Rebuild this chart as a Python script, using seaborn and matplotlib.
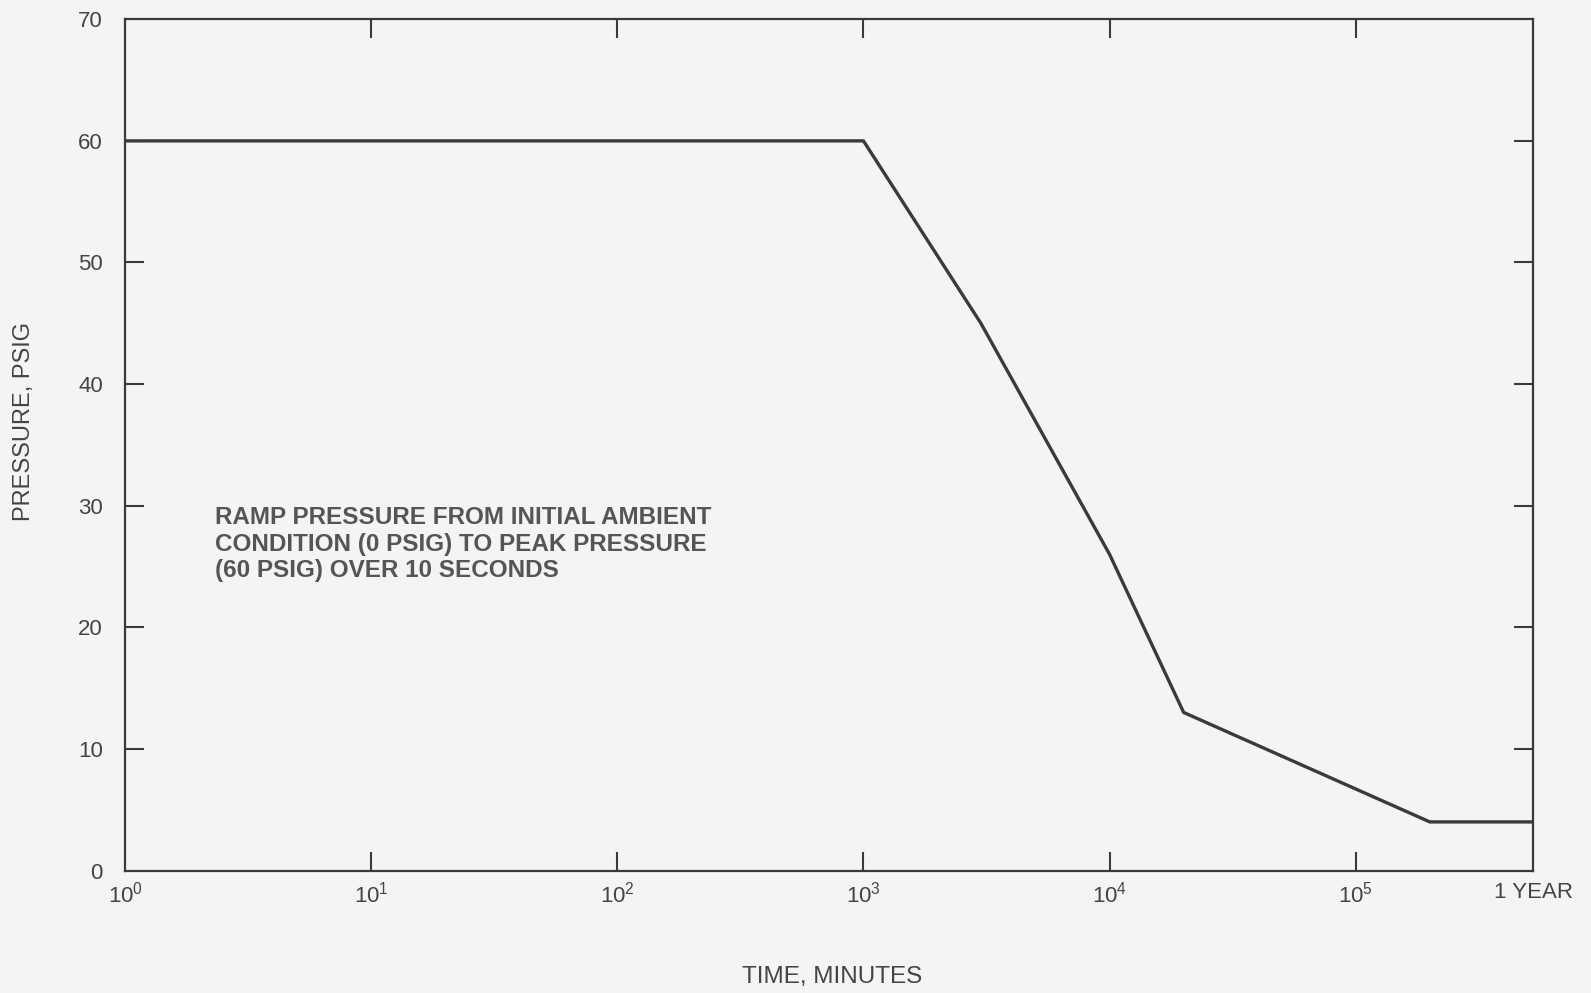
import matplotlib

matplotlib.use("Agg")
import matplotlib.pyplot as plt
import pandas as pd
import seaborn as sns

# pressure history
time_min = [1, 1000, 3000, 10000, 20000, 200000, 525600]
pressure_psig = [60, 60, 45, 26, 13, 4, 4]

x_ticks = [1, 10, 100, 1000, 10000, 100000, 525600]
x_tick_labels = ["$10^0$", "$10^1$", "$10^2$", "$10^3$", "$10^4$", "$10^5$", "1 YEAR"]
y_ticks = [0, 10, 20, 30, 40, 50, 60, 70]

note = "RAMP PRESSURE FROM INITIAL AMBIENT\nCONDITION (0 PSIG) TO PEAK PRESSURE\n(60 PSIG) OVER 10 SECONDS"

INK = "#3a3a3a"
PAPER = "#f4f4f2"

sns.set_theme(style="ticks")
plt.rcParams["font.family"] = ["Liberation Sans", "DejaVu Sans"]
plt.rcParams["mathtext.fontset"] = "custom"
plt.rcParams["mathtext.rm"] = "Liberation Sans"
plt.rcParams["mathtext.default"] = "regular"

df = pd.DataFrame({"time": time_min, "pressure": pressure_psig})

fig = plt.figure(figsize=(15.91, 9.93), dpi=100, facecolor=PAPER)
ax = fig.add_axes([0.0786, 0.1233, 0.885, 0.8573])
ax.set_facecolor(PAPER)

sns.lineplot(data=df, x="time", y="pressure", ax=ax, color=INK, linewidth=2.4)

ax.set_xscale("log")
ax.set_xlim(1, 525600)
ax.set_ylim(0, 70)
ax.set_xticks(x_ticks)
ax.set_xticklabels(x_tick_labels)
ax.minorticks_off()
ax.set_yticks(y_ticks)

for side in ["left", "right", "top", "bottom"]:
    ax.spines[side].set_visible(True)
    ax.spines[side].set_color(INK)
    ax.spines[side].set_linewidth(1.6)

ax.tick_params(axis="both", direction="in", length=14, width=1.5, color=INK,
               labelcolor="#444444", labelsize=16)
ax.tick_params(axis="x", top=True, pad=8)
ax.tick_params(axis="y", right=True, pad=16)
# no tick marks at the axis ends
for i in [0, -1]:
    ax.xaxis.get_major_ticks()[i].tick1line.set_visible(False)
    ax.xaxis.get_major_ticks()[i].tick2line.set_visible(False)
    ax.yaxis.get_major_ticks()[i].tick1line.set_visible(False)
    ax.yaxis.get_major_ticks()[i].tick2line.set_visible(False)

ax.set_xlabel("TIME, MINUTES", fontsize=17.5, color="#444444")
ax.set_ylabel("PRESSURE, PSIG", fontsize=17, color="#444444")
ax.xaxis.set_label_coords(0.502, -0.112)
ax.yaxis.set_label_coords(-0.064, 0.527)

ax.text(0.064, 0.428, note, transform=ax.transAxes, ha="left", va="top",
        fontsize=17.5, fontweight="bold", color="#555555", linespacing=1.2)

fig.savefig("out.png", dpi=100, facecolor=PAPER)
